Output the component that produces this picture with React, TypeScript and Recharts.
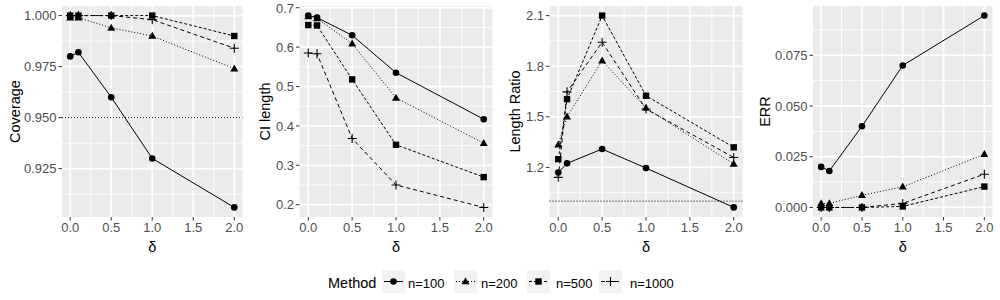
import React from 'react';
import { LineChart, Line, XAxis, YAxis, CartesianGrid, ReferenceLine } from 'recharts';

const deltas = [0, 0.1, 0.5, 1, 2];
const methodLabels = ['n=100', 'n=200', 'n=500', 'n=1000'];

const coverage100 = [0.98, 0.982, 0.96, 0.93, 0.906];
const coverage200 = [0.999, 0.999, 0.994, 0.99, 0.974];
const coverage500 = [1.0, 1.0, 1.0, 1.0, 0.99];
const coverage1000 = [1.0, 1.0, 1.0, 0.998, 0.984];

const ci100 = [0.68, 0.675, 0.63, 0.535, 0.417];
const ci200 = [0.678, 0.673, 0.609, 0.471, 0.356];
const ci500 = [0.656, 0.655, 0.518, 0.352, 0.27];
const ci1000 = [0.585, 0.583, 0.368, 0.25, 0.193];

const ratio100 = [1.17, 1.224, 1.309, 1.196, 0.963];
const ratio200 = [1.334, 1.5, 1.833, 1.552, 1.22];
const ratio500 = [1.249, 1.605, 2.1, 1.625, 1.319];
const ratio1000 = [1.141, 1.648, 1.942, 1.546, 1.259];

const err100 = [0.02, 0.018, 0.04, 0.07, 0.0946];
const err200 = [0.002, 0.002, 0.006, 0.0102, 0.0262];
const err500 = [0.0, 0.0, 0.0, 0.0005, 0.0103];
const err1000 = [0.0, 0.0, 0.0, 0.002, 0.0164];

const xTicks = [0, 0.5, 1, 1.5, 2];
const xMinor = [0.25, 0.75, 1.25, 1.75];

const coverageTicks = [0.925, 0.95, 0.975, 1.0];
const coverageMinor = [0.9125, 0.9375, 0.9625, 0.9875];
const ciTicks = [0.2, 0.3, 0.4, 0.5, 0.6, 0.7];
const ciMinor = [0.25, 0.35, 0.45, 0.55, 0.65];
const ratioTicks = [1.2, 1.5, 1.8, 2.1];
const ratioMinor = [1.05, 1.35, 1.65, 1.95];
const errTicks = [0, 0.025, 0.05, 0.075];
const errMinor = [0.0125, 0.0375, 0.0625, 0.0875];

const FONT = '"Liberation Sans", Arial, sans-serif';
const keys = ['n100', 'n200', 'n500', 'n1000'];
const dashes = [undefined, '1 2', '3 2', '4 3'];
const shapes = ['circle', 'triangle', 'square', 'plus'];

function buildRows(a: number[], b: number[], c: number[], d: number[]) {
  return deltas.map((delta, i) => ({ delta, n100: a[i], n200: b[i], n500: c[i], n1000: d[i] }));
}

function Marker({ type, cx, cy }: { type: string; cx: number; cy: number }) {
  if (cx == null || cy == null || isNaN(cx) || isNaN(cy)) return <g />;
  if (type === 'circle') return <circle cx={cx} cy={cy} r={3.3} fill="#000" />;
  if (type === 'triangle')
    return (
      <polygon
        points={`${cx},${cy - 4.2} ${cx - 4},${cy + 2.8} ${cx + 4},${cy + 2.8}`}
        fill="#000"
      />
    );
  if (type === 'square') return <rect x={cx - 3.2} y={cy - 3.2} width={6.4} height={6.4} fill="#000" />;
  return (
    <path
      d={`M${cx - 4.5},${cy}H${cx + 4.5}M${cx},${cy - 4.5}V${cy + 4.5}`}
      stroke="#000"
      strokeWidth={1.1}
      fill="none"
    />
  );
}

type PanelProps = {
  title: string;
  rows: any[];
  domain: [number, number];
  ticks: number[];
  minor: number[];
  yWidth: number;
  fmt: (v: number) => string;
  refY?: number;
};

function Panel({ title, rows, domain, ticks, minor, yWidth, fmt, refY }: PanelProps) {
  const yTitle = (props: any) => {
    const vb = props.viewBox || {};
    const cy = (vb.y || 0) + (vb.height || 0) / 2;
    return (
      <text
        x={15}
        y={cy}
        transform={`rotate(-90, 15, ${cy})`}
        textAnchor="middle"
        dominantBaseline="central"
        fontSize={14.5}
        fill="#000"
        fontFamily={FONT}
      >
        {title}
      </text>
    );
  };
  const xTitle = (props: any) => {
    const vb = props.viewBox || {};
    const cx = (vb.x || 0) + (vb.width || 0) / 2;
    return (
      <text x={cx} y={247} textAnchor="middle" dominantBaseline="central" fontSize={14.5} fill="#000" fontFamily={FONT}>
        δ
      </text>
    );
  };
  return (
    <LineChart width={250} height={255} data={rows} margin={{ top: 6, right: 7.5, left: 0, bottom: 0 }}>
      <CartesianGrid
        fill="#EBEBEB"
        stroke="#FFFFFF"
        strokeWidth={0.9}
        horizontalValues={minor}
        verticalValues={xMinor}
      />
      <CartesianGrid
        stroke="#FFFFFF"
        strokeWidth={1.8}
        horizontalValues={ticks}
        verticalValues={xTicks}
      />
      <XAxis
        dataKey="delta"
        type="number"
        domain={[-0.1, 2.1]}
        ticks={xTicks}
        allowDataOverflow
        tickFormatter={(v: number) => v.toFixed(1)}
        axisLine={false}
        tickLine={{ stroke: '#333333' }}
        tickSize={3.5}
        tickMargin={2}
        height={38}
        tick={{ fill: '#4D4D4D', fontSize: 13, fontFamily: FONT }}
        label={{ content: xTitle }}
      />
      <YAxis
        type="number"
        domain={domain}
        ticks={ticks}
        allowDataOverflow
        tickFormatter={fmt}
        axisLine={false}
        tickLine={{ stroke: '#333333' }}
        tickSize={3.5}
        tickMargin={2}
        width={yWidth}
        tick={{ fill: '#4D4D4D', fontSize: 13, fontFamily: FONT }}
        label={{ content: yTitle }}
      />
      {refY !== undefined && (
        <ReferenceLine y={refY} stroke="#000" strokeWidth={1} strokeDasharray="1 2" />
      )}
      {keys.map((k, i) => (
        <Line
          key={k}
          dataKey={k}
          type="linear"
          stroke="#000"
          strokeWidth={1}
          strokeDasharray={dashes[i]}
          isAnimationActive={false}
          dot={(p: any) => <Marker key={`${k}-${p.index}`} type={shapes[i]} cx={p.cx} cy={p.cy} />}
          activeDot={false}
        />
      ))}
    </LineChart>
  );
}

function Legend() {
  const boxes = [382, 454, 527, 599];
  const labelX = [408, 481, 556, 630];
  return (
    <svg width={1000} height={45} style={{ position: 'absolute', left: 0, top: 255 }}>
      <text x={328} y={28} dominantBaseline="central" fontSize={14.5} fill="#000" fontFamily={FONT}>
        Method
      </text>
      {methodLabels.map((m, i) => {
        const bx = boxes[i];
        const by = 15;
        return (
          <g key={m}>
            <rect x={bx} y={by} width={23} height={23} fill="#F2F2F2" />
            <line
              x1={bx + 2}
              x2={bx + 21}
              y1={by + 11.5}
              y2={by + 11.5}
              stroke="#000"
              strokeWidth={1}
              strokeDasharray={dashes[i]}
            />
            <Marker type={shapes[i]} cx={bx + 11.5} cy={by + 11.5} />
            <text x={labelX[i]} y={28} dominantBaseline="central" fontSize={13} fill="#000" fontFamily={FONT}>
              {m}
            </text>
          </g>
        );
      })}
    </svg>
  );
}

export default function App() {
  const coverageRows = buildRows(coverage100, coverage200, coverage500, coverage1000);
  const ciRows = buildRows(ci100, ci200, ci500, ci1000);
  const ratioRows = buildRows(ratio100, ratio200, ratio500, ratio1000);
  const errRows = buildRows(err100, err200, err500, err1000);
  return (
    <div style={{ position: 'absolute', left: 0, top: 0, width: 1000, height: 300, background: '#fff', fontFamily: FONT }}>
      <div style={{ display: 'flex', position: 'absolute', left: 0, top: 0 }}>
        <Panel
          title="Coverage"
          rows={coverageRows}
          domain={[0.9013, 1.0047]}
          ticks={coverageTicks}
          minor={coverageMinor}
          yWidth={62}
          fmt={(v) => v.toFixed(3)}
          refY={0.95}
        />
        <Panel
          title="CI length"
          rows={ciRows}
          domain={[0.1687, 0.7044]}
          ticks={ciTicks}
          minor={ciMinor}
          yWidth={49.5}
          fmt={(v) => v.toFixed(1)}
        />
        <Panel
          title="Length Ratio"
          rows={ratioRows}
          domain={[0.906, 2.157]}
          ticks={ratioTicks}
          minor={ratioMinor}
          yWidth={49.5}
          fmt={(v) => v.toFixed(1)}
          refY={1}
        />
        <Panel
          title="ERR"
          rows={errRows}
          domain={[-0.0047, 0.0993]}
          ticks={errTicks}
          minor={errMinor}
          yWidth={63}
          fmt={(v) => v.toFixed(3)}
        />
      </div>
      <Legend />
    </div>
  );
}
